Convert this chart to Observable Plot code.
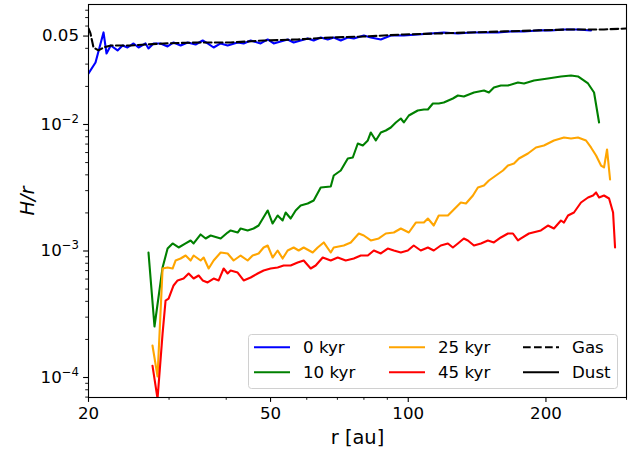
<!DOCTYPE html>
<html><head><meta charset="utf-8">
<script src="https://cdn.jsdelivr.net/npm/d3@7"></script>
<script src="https://cdn.jsdelivr.net/npm/@observablehq/plot@0.6"></script>
<style>
body{margin:0;background:#fff;font-family:"DejaVu Sans",sans-serif;}
#wrap{position:relative;width:638px;height:449px;}
#legend{position:absolute;left:248px;top:334px;}
</style></head><body><div id="wrap"></div><script>
const r0 = [20.00,20.72,21.57,21.90,22.37,23.15,23.74,24.34,25.09,25.73,26.65,27.05,27.75,28.74,29.78,30.69,31.80,32.94,34.29,35.53,36.43,37.55,38.90,40.29,42.37,43.67,45.24,47.57,49.28,50.80,52.62,54.50,56.17,58.19,60.28,62.13,64.37,66.68,68.73,71.20,73.77,76.03,79.96,82.83,87.11,91.61,97.81,104.9,112.0,119.6,128.4,137.1,146.4,157.1,167.7,179.1,192.1,205.1,219.0,235.0,250.9];
const h0 = [0.0253,0.0309,0.0534,0.0364,0.0421,0.0385,0.0421,0.0406,0.0437,0.0406,0.0437,0.0399,0.0437,0.0437,0.0414,0.0445,0.0421,0.0445,0.0429,0.0461,0.0437,0.0406,0.0437,0.0421,0.0445,0.0437,0.0461,0.0437,0.0470,0.0437,0.0453,0.0470,0.0445,0.0461,0.0479,0.0461,0.0487,0.0470,0.0487,0.0461,0.0487,0.0479,0.0505,0.0487,0.0470,0.0505,0.0505,0.0515,0.0524,0.0534,0.0524,0.0534,0.0534,0.0534,0.0544,0.0544,0.0554,0.0554,0.0564,0.0564,0.0554];
const rGas = [20.00,20.20,20.51,21.03,21.57,22.37,24.71,29.18,34.64,40.90,48.29,57.32,67.70,79.96,97.81,116.1,137.1,161.9,192.1,226.9,267.9,300];
const hGas = [0.0574,0.0524,0.0406,0.0385,0.0406,0.0421,0.0421,0.0437,0.0445,0.0445,0.0461,0.0470,0.0487,0.0496,0.0515,0.0524,0.0534,0.0544,0.0554,0.0564,0.0564,0.0574];
const r10 = [27.05,27.88,29.04,29.78,30.54,31.48,32.61,33.44,33.95,35.17,36.07,36.99,38.90,40.29,40.90,42.37,43.01,44.56,45.92,47.09,49.28,50.53,51.82,53.14,53.95,55.33,56.74,58.19,60.28,62.13,64.37,67.70,68.73,71.20,73.77,75.65,77.58,79.56,81.59,82.83,84.94,87.11,89.33,91.61,93.95,96.34,97.81,100.3,104.9,108.2,110.4,113.2,116.6,119.6,125.2,128.4,132.3,139.2,146.4,150.1,153.9,159.4,165.2,173.7,179.1,188.3,202.0,215.7,226.9,235.0,247.2,254.8,261.3];
const h10 = [0.000973,0.000253,0.000741,0.001046,0.001147,0.001066,0.001147,0.001211,0.001147,0.001351,0.001256,0.001326,0.001256,0.001400,0.001453,0.001400,0.001506,0.001453,0.001506,0.001590,0.002090,0.001649,0.001908,0.001742,0.002015,0.001806,0.002090,0.002289,0.002373,0.002506,0.003177,0.003236,0.003952,0.004328,0.005385,0.005484,0.007077,0.006824,0.007474,0.008645,0.007474,0.008645,0.008965,0.009469,0.01037,0.01115,0.01037,0.01178,0.01290,0.01314,0.01314,0.01466,0.01466,0.01492,0.01605,0.01695,0.01664,0.01791,0.01857,0.01791,0.01961,0.02033,0.02033,0.02148,0.02109,0.02227,0.02310,0.02396,0.02440,0.02396,0.02109,0.01791,0.01037];
const r25 = [27.60,28.31,29.04,29.78,30.54,31.00,31.80,32.61,33.44,33.95,35.17,35.71,36.62,37.55,38.90,40.29,41.52,43.01,44.56,45.69,47.09,48.29,49.28,50.53,51.82,53.14,54.50,56.17,57.61,59.08,61.82,63.40,65.35,67.70,68.73,72.30,74.89,77.97,79.96,82.83,86.23,89.33,93.01,96.34,100.3,103.9,108.2,110.4,113.7,116.6,122.1,125.2,130.3,133.7,138.5,142.0,146.4,150.1,155.5,161.1,165.2,170.3,174.6,182.7,190.2,198.0,208.2,219.0,226.9,235.0,244.7,250.9,257.4,263.9,267.9,272.0,276.2];
const h25 = [0.000179,0.000102,0.000727,0.000741,0.000727,0.000841,0.000872,0.000921,0.000841,0.000921,0.000841,0.000888,0.000727,0.000841,0.000973,0.000956,0.000841,0.000921,0.000841,0.000921,0.000956,0.001066,0.001105,0.000888,0.001009,0.000872,0.001009,0.001066,0.001009,0.001066,0.000973,0.001066,0.001168,0.000973,0.001066,0.001105,0.001168,0.001375,0.001326,0.001211,0.001256,0.001375,0.001400,0.001506,0.001400,0.001679,0.001679,0.001806,0.001590,0.001908,0.001908,0.002090,0.002417,0.002373,0.002746,0.003177,0.003294,0.003608,0.003952,0.004328,0.004740,0.004916,0.005385,0.005899,0.006580,0.006824,0.007474,0.007893,0.007751,0.007893,0.007474,0.006580,0.005687,0.004740,0.004571,0.006345,0.003674];
const r45 = [27.60,28.31,29.04,29.48,29.93,30.69,31.32,32.28,33.11,33.95,34.82,35.53,36.43,37.55,38.51,39.49,40.29,40.90,42.37,43.67,45.24,46.86,48.29,50.02,51.82,53.41,55.33,57.32,59.08,61.20,62.76,65.02,67.70,70.13,73.0,76.03,78.76,81.59,84.1,87.11,90.2,93.01,96.34,99.80,102.8,106.5,110.4,113.7,117.8,122.1,125.2,128.4,132.3,135.0,139.2,144.2,149.3,153.9,159.4,165.2,169.4,173.7,176.4,183.6,195.0,202.0,208.2,215.7,219.0,223.5,230.3,238.6,247.2,253.5,257.4,261.3,267.9,274.8,280.4,283.2];
const h45 = [0.000124,0.000068,0.000223,0.000406,0.000421,0.000534,0.000585,0.000606,0.000664,0.000606,0.000640,0.000585,0.000564,0.000606,0.000585,0.000727,0.000664,0.000701,0.000676,0.000585,0.000617,0.000664,0.000701,0.000727,0.000741,0.000768,0.000768,0.000811,0.000841,0.000727,0.000768,0.000888,0.000841,0.000888,0.000841,0.000872,0.000921,0.000921,0.001009,0.000956,0.001046,0.001009,0.000973,0.001009,0.001105,0.001009,0.001066,0.001009,0.001105,0.001147,0.001066,0.001147,0.001256,0.001211,0.001105,0.001147,0.001211,0.001168,0.001279,0.001375,0.001375,0.001211,0.001256,0.001375,0.001453,0.001590,0.001506,0.001742,0.001679,0.001908,0.002015,0.002417,0.002647,0.002746,0.002901,0.002647,0.002746,0.002600,0.002015,0.001066];

const timeLabels = ["0 kyr","10 kyr","25 kyr","45 kyr"];
const timeColors = ["#0000ff","#008000","#ffa500","#ff0000"];
const styleLabels = ["Gas","Dust"];
const xMajor = [20,50,100,200];
const xMinor = [30,40,60,70,80,90,300];
const yMajor = [1e-4,1e-3,1e-2,0.05];
const yMinor = [7e-5,8e-5,9e-5,2e-4,3e-4,4e-4,5e-4,6e-4,7e-4,8e-4,9e-4,2e-3,3e-3,4e-3,5e-3,6e-3,7e-3,8e-3,9e-3,2e-2,3e-2,4e-2,6e-2,7e-2,8e-2];

const toRows = (rs, hs) => rs.map((r, i) => ({r, h: hs[i]}));
const dust = [toRows(r0,h0), toRows(r10,h10), toRows(r25,h25), toRows(r45,h45)];
const gas = toRows(rGas, hGas);

const fmtY = d => Math.abs(d - 0.05) < 1e-9 ? "0.05" : "10^" + Math.round(Math.log10(d));
const LW = 2.1;

const plot = Plot.plot({
  width: 638, height: 449,
  marginLeft: 88, marginRight: 12, marginTop: 4, marginBottom: 52,
  style: {fontFamily: '"DejaVu Sans", sans-serif', fontSize: "16.67px", background: "white", color: "black"},
  x: {type: "log", domain: [20, 300]},
  y: {type: "log", domain: [6.95e-5, 0.0888]},
  marks: [
    Plot.axisX({ticks: xMinor, tickSize: 2.8, text: () => "", label: null, strokeWidth: 0.9}),
    Plot.axisX({ticks: xMajor, tickSize: 4.9, tickPadding: 4.6, text: d => String(d), label: null, strokeWidth: 1.1, fontSize: 16.67}),
    Plot.axisY({ticks: yMinor, tickSize: 2.8, text: () => "", label: null, strokeWidth: 0.9}),
    Plot.axisY({ticks: yMajor, tickSize: 4.9, tickPadding: 4.6, text: fmtY, label: null, strokeWidth: 1.1, fontSize: 16.67}),
    Plot.line(dust[0], {x: "r", y: "h", stroke: timeColors[0], strokeWidth: LW, clip: true}),
    Plot.line(gas, {x: "r", y: "h", stroke: "black", strokeWidth: LW, strokeDasharray: "7.7,3.3", clip: true}),
    Plot.line(dust[1], {x: "r", y: "h", stroke: timeColors[1], strokeWidth: LW, clip: true}),
    Plot.line(dust[2], {x: "r", y: "h", stroke: timeColors[2], strokeWidth: LW, clip: true}),
    Plot.line(dust[3], {x: "r", y: "h", stroke: timeColors[3], strokeWidth: LW, clip: true}),
    Plot.frame({stroke: "black", strokeWidth: 1.1}),
    Plot.text(["r [au]"], {text: d => d, frameAnchor: "bottom", dy: 40, lineAnchor: "middle", textAnchor: "middle", fontSize: 19.4}),
    Plot.text(["H/r"], {text: d => d, frameAnchor: "left", dx: -61, rotate: -90, lineAnchor: "middle", textAnchor: "middle", fontSize: 19.4, fontStyle: "italic"})
  ]
});

plot.querySelectorAll("text").forEach(t => {
  const m = t.textContent.match(/^10\^(-?\d+)$/);
  if (!m) return;
  t.textContent = "10";
  const ts = document.createElementNS("http://www.w3.org/2000/svg", "tspan");
  ts.setAttribute("dy", "-7");
  ts.setAttribute("font-size", "11.7px");
  ts.textContent = m[1].replace("-", "\u2212");
  t.appendChild(ts);
});

const wrap = document.getElementById("wrap");
wrap.appendChild(plot);

const items = [
  {label: timeLabels[0], color: timeColors[0], dash: null},
  {label: timeLabels[1], color: timeColors[1], dash: null},
  {label: timeLabels[2], color: timeColors[2], dash: null},
  {label: timeLabels[3], color: timeColors[3], dash: null},
  {label: styleLabels[0], color: "black", dash: "7.7,3.3"},
  {label: styleLabels[1], color: "black", dash: null}
];
const colHandle = [6, 141, 275], colText = [55, 190, 324], rowY = [13.3, 38.3];
const leg = d3.create("svg").attr("id", "legend").attr("width", 371).attr("height", 56);
leg.append("rect").attr("x", 0.5).attr("y", 0.5).attr("width", 369).attr("height", 54).attr("rx", 3)
  .attr("fill", "rgba(255,255,255,0.8)").attr("stroke", "#d0d0d0");
items.forEach((it, i) => {
  const c = Math.floor(i / 2), r = i % 2;
  leg.append("line").attr("x1", colHandle[c]).attr("x2", colHandle[c] + 36)
    .attr("y1", rowY[r]).attr("y2", rowY[r]).attr("stroke", it.color).attr("stroke-width", LW)
    .attr("stroke-dasharray", it.dash);
  leg.append("text").attr("x", colText[c]).attr("y", rowY[r] + 6).attr("font-size", "16.67px")
    .attr("font-family", '"DejaVu Sans", sans-serif').attr("fill", "black").text(it.label);
});
wrap.appendChild(leg.node());
</script></body></html>
